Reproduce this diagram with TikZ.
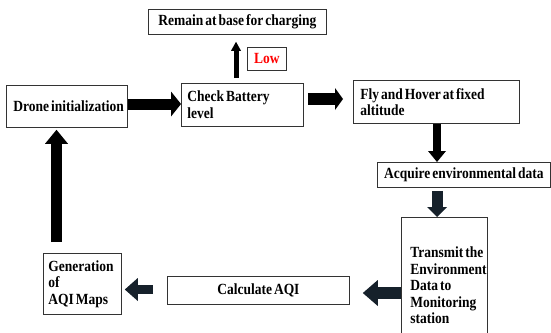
\documentclass[tikz,border=0pt]{standalone}
\usepackage{fontspec}
\setmainfont{Liberation Serif}[FakeStretch=0.87, WordSpace=0.6]
\usetikzlibrary{arrows.meta}
\definecolor{navy}{RGB}{22,33,43}

\begin{document}
\begin{tikzpicture}[x=1pt, y=-1pt,
  font=\bfseries\fontsize{15.5}{16.5}\selectfont,
  box/.style={draw=black!80, line width=0.8pt, anchor=north west,
    inner xsep=6pt, inner ysep=0pt, align=flush left},
  cbox/.style={draw=black!80, line width=0.8pt, anchor=north west,
    inner sep=0pt, align=center},
  blk/.style={line width=#1}]
  \clip (0,0) rectangle (551,332);

  % boxes
  \node[cbox, minimum width=178pt, minimum height=25pt] (remain) at (148,9) {Remain at base for charging};
  \node[cbox, minimum width=39pt, minimum height=23pt, text=red] (low) at (247,47) {Low};
  \node[box, inner xsep=7pt, text width=107pt, minimum height=42pt] (drone) at (6,85) {\mbox{Drone initialization}};
  \node[box, text width=110pt, minimum height=43pt] (check) at (181,83) {Check Battery\\level};
  \node[box, inner xsep=7pt, text width=152pt, minimum height=43pt] (fly) at (353,80) {Fly and Hover at fixed\\altitude};
  \node[cbox, minimum width=173pt, minimum height=25pt] (acq) at (377,162) {Acquire environmental data};
  \node[box, inner xsep=9pt, text width=68pt, minimum height=136pt] (trans) at (401,217) {\mbox{Transmit the}\\\mbox{Environment}\\Data to\\Monitoring\\station};
  \node[cbox, minimum width=182pt, minimum height=28pt] (calc) at (167,276) {Calculate AQI};
  \node[box, inner xsep=5pt, text width=68pt, minimum height=61pt] (gen) at (43,253) {Generation\\of\\AQI Maps};

  % black block arrows
  \draw[blk=11pt, -{Triangle[width=25pt, length=10pt, line width=0pt]}]
    (drone.east |- 0,104) -- (check.west |- 0,104);
  \draw[blk=12pt, shorten <=4pt, shorten >=10pt, -{Triangle[width=22pt, length=8pt, line width=0pt]}]
    (check.east |- 0,99) -- (fly.west |- 0,99);
  \draw[blk=8pt, -{Triangle[width=18pt, length=11pt, line width=0pt]}]
    (fly.south -| 437,0) -- (acq.north -| 437,0);
  \draw[blk=5pt, shorten <=5pt, shorten >=7pt, -{Triangle[width=10pt, length=9pt, line width=0pt]}]
    (check.north -| 236,0) -- (remain.south -| 236,0);
  \draw[blk=11pt, shorten <=11pt, shorten >=2pt, -{Triangle[width=23pt, length=14pt, line width=0pt]}]
    (gen.north -| 56.5,0) -- (drone.south -| 56.5,0);

  % dark block arrows
  \draw[navy, blk=11pt, shorten <=3pt, -{Triangle[width=20pt, length=10pt, line width=0pt]}]
    (acq.south -| 437,0) -- (trans.north -| 437,0);
  \draw[navy, blk=12pt, shorten >=13pt, -{Triangle[width=26pt, length=15pt, line width=0pt]}]
    (trans.west |- 0,293) -- (calc.east |- 0,293);
  \draw[navy, blk=9pt, shorten <=14pt, shorten >=3pt, -{Triangle[width=23pt, length=13pt, line width=0pt]}]
    (calc.west |- 0,289.5) -- (gen.east |- 0,289.5);
\end{tikzpicture}
\end{document}
